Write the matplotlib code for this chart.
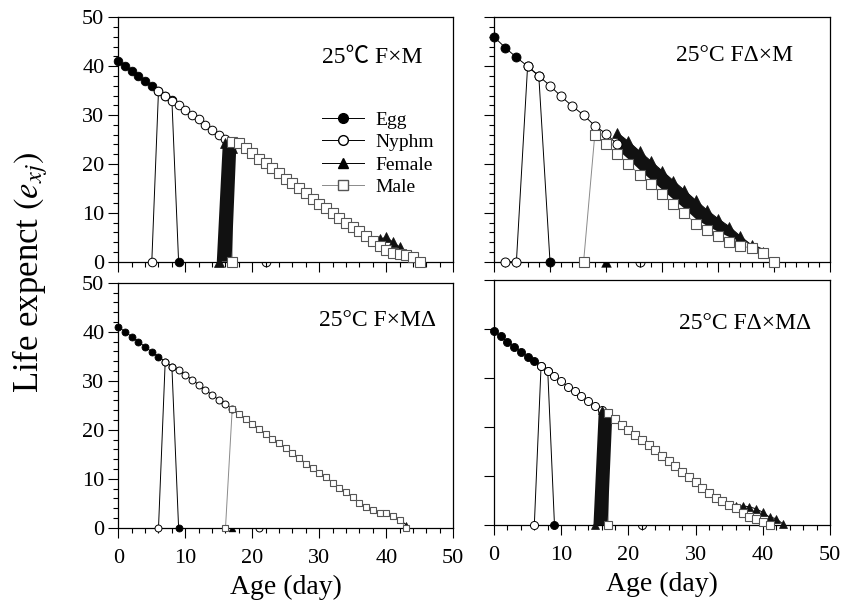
import matplotlib
matplotlib.use("Agg")
import matplotlib.pyplot as plt
from matplotlib.ticker import MultipleLocator, NullLocator
from matplotlib.lines import Line2D
from matplotlib.path import Path
import numpy as np

plt.rcParams['font.family'] = ['Liberation Serif', 'Noto Sans CJK SC']
plt.rcParams['mathtext.fontset'] = 'stix'

# ---------------- data ----------------
# Top-left: 25℃ F×M
tl_egg_age = list(range(0, 10))
tl_egg_e = [41.0, 40.0, 39.0, 38.0, 37.0, 36.0, 35.0, 34.0, 33.0, 0]
tl_nymph_age = list(range(5, 18))
tl_nymph_e = [0, 35.0, 33.9, 32.9, 32.0, 31.0, 30.0, 29.1, 28.0, 26.9, 25.9, 25.0, 24.1]
tl_female_age = list(range(15, 45))
tl_female_e = [0, 24.2, 23.2, 24.2, 23.2, 22.2, 21.1, 20.1, 19.1, 18.1, 17.0, 16.0, 15.0, 14.0,
               12.9, 11.9, 10.9, 10.0, 9.0, 8.0, 7.0, 6.2, 5.2, 4.3, 4.6, 5.0, 4.0, 3.0, 1.6, 0.9]
tl_female_band_age = [14.7, 15.6, 16.5, 17.6, 16.9]
tl_female_band_e = [0, 24.4, 24.0, 23.1, 0]
tl_male_age = [17] + list(range(17, 46))
tl_male_e = [0, 24.5, 24.2, 23.2, 22.2, 21.1, 20.1, 19.1, 18.1, 17.0, 16.0, 15.0, 14.0, 12.9, 11.9,
             10.9, 10.0, 9.0, 8.0, 7.0, 6.2, 5.2, 4.3, 3.2, 2.3, 1.7, 1.6, 1.4, 0.9, 0]
tl_nymph_zero_age = [22]
tl_female_zero_age = []

# Top-right: 25°C FΔ×M
tr_egg_age = list(range(0, 6))
tr_egg_e = [23.0, 21.9, 20.9, 20.0, 19.0, 0]
tr_nymph_age = list(range(1, 12))
tr_nymph_e = [0, 0, 20.0, 19.0, 18.0, 16.9, 15.9, 15.0, 13.9, 13.1, 12.0]
tr_female_age = list(range(11, 25))
tr_female_e = [13.2, 12.3, 11.3, 10.3, 9.3, 8.3, 7.3, 6.3, 5.3, 4.4, 3.6, 2.6, 1.7, 1.0]
tr_male_age = list(range(8, 26))
tr_male_e = [0, 13.0, 12.0, 11.0, 10.0, 8.9, 7.9, 6.9, 5.9, 4.95, 3.9, 3.2, 2.6, 2.05, 1.6, 1.4, 0.86, 0]
tr_nymph_zero_age = [13]
tr_female_zero_age = [10]

# Bottom-left: 25°C F×MΔ
bl_egg_age = list(range(0, 10))
bl_egg_e = [41.0, 40.0, 39.0, 38.0, 36.9, 35.9, 34.9, 33.9, 32.8, 0]
bl_nymph_age = list(range(6, 18))
bl_nymph_e = [0, 33.9, 32.8, 32.2, 31.2, 30.2, 29.2, 28.1, 27.1, 26.1, 25.2, 24.3]
bl_female_age = list(range(17, 44))
bl_female_e = [24.2, 23.2, 22.2, 21.2, 20.1, 19.1, 18.2, 17.2, 16.2, 15.2, 14.2, 13.1, 12.1, 11.2,
               10.3, 9.2, 8.2, 7.2, 6.2, 5.1, 4.3, 3.6, 2.9, 3.0, 2.4, 1.6, 0.6]
bl_male_age = [16] + list(range(17, 44))
bl_male_e = [0, 24.2, 23.2, 22.2, 21.2, 20.1, 19.1, 18.2, 17.2, 16.2, 15.2, 14.2, 13.1, 12.1, 11.2,
             10.3, 9.2, 8.2, 7.2, 6.2, 5.1, 4.3, 3.6, 2.9, 3.0, 2.4, 1.6, 0]
bl_nymph_zero_age = [21]
bl_female_zero_age = [17]

# Bottom-right: 25°C FΔ×MΔ
br_egg_age = list(range(0, 10))
br_egg_e = [39.5, 38.4, 37.3, 36.3, 35.3, 34.3, 33.3, 32.3, 31.3, 0]
br_nymph_age = list(range(6, 17))
br_nymph_e = [0, 32.3, 31.3, 30.3, 29.3, 28.2, 27.2, 26.2, 25.3, 24.3, 23.4]
br_female_age = list(range(15, 44))
br_female_e = [0, 23.5, 22.8, 21.6, 20.4, 19.4, 18.4, 17.4, 16.3, 15.2, 14.1, 13.0, 12.0, 10.8,
               9.8, 8.7, 7.5, 6.5, 5.6, 4.8, 4.1, 3.8, 3.9, 3.7, 3.3, 2.6, 1.6, 1.3, 0.2]
br_female_band_age = [14.8, 15.6, 16.5, 17.6, 16.9]
br_female_band_e = [0, 23.6, 23.3, 22.3, 0]
br_male_age = [17] + list(range(17, 42))
br_male_e = [0, 22.8, 21.6, 20.4, 19.4, 18.4, 17.4, 16.3, 15.2, 14.1, 13.0, 12.0, 10.8, 9.8, 8.7,
             7.5, 6.5, 5.6, 4.8, 4.1, 3.4, 2.4, 1.7, 1.2, 0.7, 0]
br_nymph_zero_age = [22]
br_female_zero_age = []

panel_titles = ["25\u2103 F\u00d7M", "25\u00b0C F\u0394\u00d7M", "25\u00b0C F\u00d7M\u0394", "25\u00b0C F\u0394\u00d7M\u0394"]
legend_labels = ["Egg", "Nyphm", "Female", "Male"]
x_ticks = [0, 10, 20, 30, 40, 50]
y_ticks = [0, 10, 20, 30, 40, 50]

# ---------------- style ----------------
W, H = 854, 605
fig = plt.figure(figsize=(W / 100, H / 100), dpi=100)

def rect(l, r, t, b):
    return [l / W, 1 - b / H, (r - l) / W, (b - t) / H]

ax_tl = fig.add_axes(rect(118.3, 453.3, 17.3, 261.7))
ax_tr = fig.add_axes(rect(494, 830, 17.3, 261.7))
ax_bl = fig.add_axes(rect(118.3, 453.3, 282.7, 527.7))
ax_br = fig.add_axes(rect(494, 830, 279.5, 525))

MALE_LINE = '#8a8a8a'
MALE_EDGE = '#555555'
BLACK = '#111111'
LW = 0.7
lower_arc = Path.arc(180, 360)
lower_tri = [(-1, -1), (1, -1), (0.5, 0), (-0.5, 0), (-1, -1)]


def draw(ax, egg, nymph, female, male, band, nz, fz, ms):
    mc, ms_sq, ms_tri = ms
    # connecting lines first
    ax.plot(egg[0], egg[1], '-', color='black', lw=LW, clip_on=False, zorder=3)
    ax.plot(nymph[0], nymph[1], '-', color='black', lw=LW, clip_on=False, zorder=3)
    ax.plot(female[0], female[1], '-', color='black', lw=LW, clip_on=False, zorder=3)
    ax.plot(male[0], male[1], '-', color=MALE_LINE, lw=LW, clip_on=False, zorder=3)
    # dense female region
    if band is not None:
        ax.fill(band[0], band[1], color=BLACK, lw=0, zorder=3.1)
    if female[2]:
        fa = np.array(female[0], float)
        low = np.interp(fa, np.array(male[0][1:], float), np.array(male[1][1:], float)) + 0.5
        ax.fill_between(fa, female[1], low, color=BLACK, lw=0, zorder=3.1)
    # markers
    ax.plot(egg[0], egg[1], ls='none', marker='o', ms=mc, mfc='black',
            mec='black', mew=0.6, clip_on=False, zorder=3.2)
    ax.plot(nymph[0], nymph[1], ls='none', marker='o', ms=mc, mfc='white',
            mec='black', mew=0.7, clip_on=False, zorder=3.3)
    ax.plot(female[0], female[1], ls='none', marker='^', ms=ms_tri,
            mfc=BLACK, mec=BLACK, mew=0.5, clip_on=False, zorder=3.4)
    ax.plot(male[0], male[1], ls='none', marker='s', ms=ms_sq, mfc='white',
            mec=MALE_EDGE, mew=0.8, clip_on=False, zorder=3.5)
    if nz:
        ax.plot(nz, [0] * len(nz), ls='none', marker=lower_arc, ms=mc, mfc='none',
                mec='black', mew=0.7, clip_on=False, zorder=3.5)
    if fz:
        ax.plot(fz, [0] * len(fz), ls='none', marker=lower_tri, ms=ms_tri, mfc='black',
                mec='black', mew=0.3, clip_on=False, zorder=3.5)


draw(ax_tl, (tl_egg_age, tl_egg_e), (tl_nymph_age, tl_nymph_e),
     (tl_female_age, tl_female_e, False), (tl_male_age, tl_male_e),
     (tl_female_band_age, tl_female_band_e), tl_nymph_zero_age, tl_female_zero_age, (6.2, 7.0, 7.0))
draw(ax_tr, (tr_egg_age, tr_egg_e), (tr_nymph_age, tr_nymph_e),
     (tr_female_age, tr_female_e, True), (tr_male_age, tr_male_e),
     None, tr_nymph_zero_age, tr_female_zero_age, (6.5, 6.5, 7.0))
draw(ax_bl, (bl_egg_age, bl_egg_e), (bl_nymph_age, bl_nymph_e),
     (bl_female_age, bl_female_e, False), (bl_male_age, bl_male_e),
     None, bl_nymph_zero_age, bl_female_zero_age, (5.0, 4.5, 5.0))
draw(ax_br, (br_egg_age, br_egg_e), (br_nymph_age, br_nymph_e),
     (br_female_age, br_female_e, False), (br_male_age, br_male_e),
     (br_female_band_age, br_female_band_e), br_nymph_zero_age, br_female_zero_age, (5.8, 6.0, 6.0))

TICKFS = 16
for ax in (ax_tl, ax_tr, ax_bl, ax_br):
    for s in ax.spines.values():
        s.set_linewidth(0.9)
        s.set_zorder(2.5)
    ax.tick_params(which='both', direction='out', top=False, right=False, width=0.8,
                   labelsize=TICKFS, colors='black')
    ax.tick_params(which='major', length=7)
    ax.tick_params(which='minor', length=3.5)
    ax.tick_params(axis='x', which='major', pad=8)
    ax.tick_params(axis='y', which='major', pad=3)

# left panels: 0..50 both axes
for ax in (ax_tl, ax_bl):
    ax.set_xlim(0, 50)
    ax.set_ylim(0, 50)
    ax.set_xticks(x_ticks)
    ax.set_yticks(y_ticks)
    ax.xaxis.set_minor_locator(MultipleLocator(2))
    ax.yaxis.set_minor_locator(MultipleLocator(2))

# top-right panel uses its own scale (no tick labels)
ax_tr.set_xlim(0, 30)
ax_tr.set_ylim(0, 25)
ax_tr.xaxis.set_major_locator(MultipleLocator(5))
ax_tr.xaxis.set_minor_locator(MultipleLocator(1))
ax_tr.yaxis.set_major_locator(MultipleLocator(5))
ax_tr.yaxis.set_minor_locator(MultipleLocator(1))

ax_br.set_xlim(0, 50)
ax_br.set_ylim(0, 50)
ax_br.set_xticks(x_ticks)
ax_br.set_yticks(y_ticks)
ax_br.xaxis.set_minor_locator(MultipleLocator(2))
ax_br.yaxis.set_minor_locator(NullLocator())

ax_tl.tick_params(axis='x', labelbottom=False)
ax_tr.tick_params(axis='both', labelbottom=False, labelleft=False)
ax_br.tick_params(axis='y', labelleft=False)

for ax in (ax_bl, ax_br):
    ax.set_xlabel("Age (day)", fontsize=20, labelpad=5)

fig.text(30 / W, 1 - 272 / H, r"Life expenct $\mathit{(e_{xj})}$", rotation=90,
         ha='center', va='center', fontsize=25)

# panel titles
TFS = 17
ax_tl.text(0.757, 0.835, panel_titles[0], transform=ax_tl.transAxes, ha='center', va='center',
           fontsize=TFS)
ax_tr.text(0.717, 0.842, panel_titles[1], transform=ax_tr.transAxes, ha='center', va='center',
           fontsize=TFS)
ax_bl.text(0.775, 0.844, panel_titles[2], transform=ax_bl.transAxes, ha='center', va='center',
           fontsize=TFS)
ax_br.text(0.747, 0.819, panel_titles[3], transform=ax_br.transAxes, ha='center', va='center',
           fontsize=TFS)

# legend (top-left)
handles = [
    Line2D([], [], color='black', lw=LW, marker='o', ms=7, mfc='black', mec='black'),
    Line2D([], [], color='black', lw=LW, marker='o', ms=7, mfc='white', mec='black'),
    Line2D([], [], color='black', lw=LW, marker='^', ms=7, mfc='black', mec='black'),
    Line2D([], [], color=MALE_LINE, lw=LW, marker='s', ms=6.5, mfc='white', mec=MALE_EDGE),
]
LFS = 14
ax_tl.legend(handles, legend_labels, loc='upper left', frameon=False, fontsize=LFS,
             bbox_to_anchor=(321.7 / W, 1 - 111 / H), bbox_transform=fig.transFigure,
             borderpad=0, borderaxespad=0, handlelength=2.15, handletextpad=0.6,
             labelspacing=0.25, numpoints=1)

fig.savefig("out.png", dpi=100)
